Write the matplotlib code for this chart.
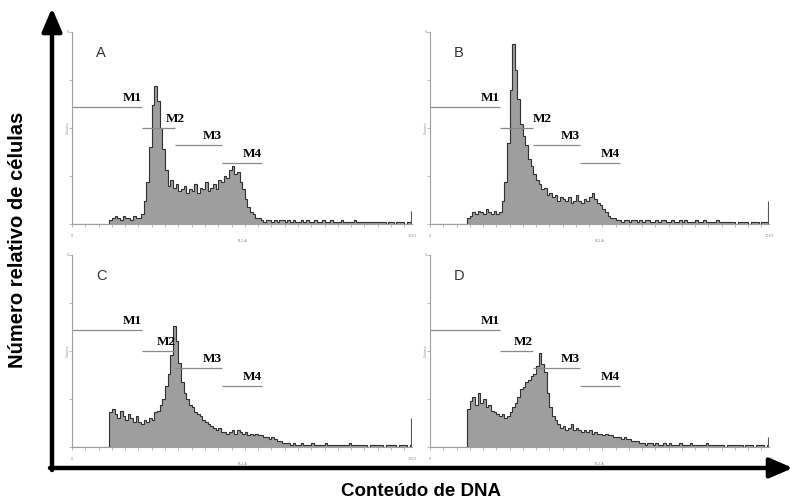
import numpy as np
import matplotlib
matplotlib.use("Agg")
import matplotlib.pyplot as plt

# DNA content histograms (FL2-A channel, bins of 8 channels), height in % of y axis
bin_width = 8
counts_a = [0, 0, 0, 0, 0, 0, 0, 0, 0, 0, 0, 0, 0, 0,
            2, 3, 4, 3, 2, 4, 3, 3, 2, 4, 3, 3,
            5, 12, 22, 40, 62, 72, 64, 50, 39, 28, 20, 23, 19, 21, 17, 18, 20, 16, 18, 17,
            21, 16, 19, 18, 22, 17, 19, 21, 18, 23, 22, 25, 24, 28, 30, 26, 27, 22, 18, 13,
            9, 6, 5, 3, 3,
            2, 1, 2, 2, 1, 2, 1, 2, 2, 1, 2, 1, 2, 1, 1, 2, 1, 2, 1, 1,
            2, 1, 1, 2, 1, 1, 2, 1, 1, 1, 2, 1, 1, 1, 1, 2, 1, 1, 1, 1,
            1, 1, 1, 1, 1, 1, 1, 0, 1, 1, 0, 1, 1, 1, 0, 1, 1]
counts_b = [0, 0, 0, 0, 0, 0, 0, 0, 0, 0, 0, 0, 0, 0,
            3, 4, 6, 5, 7, 6, 5, 8, 6, 5, 7, 5, 6,
            12, 22, 42, 70, 94, 80, 65, 52, 46, 41, 34, 30, 26, 23, 21, 18, 19, 15, 16, 14,
            15, 12, 14, 13, 12, 14, 11, 12, 15, 12, 11, 13, 12, 14, 16, 13, 11, 10, 8, 6,
            4, 3, 3,
            2, 2, 1, 2, 2, 1, 2, 2, 1, 2, 1, 2, 2, 1, 1, 2, 1, 2, 2, 1,
            1, 2, 1, 1, 2, 1, 2, 1, 1, 1, 2, 1, 1, 2, 1, 1, 1, 1, 2, 1,
            1, 1, 1, 1, 1, 0, 1, 1, 1, 1, 0, 1, 1, 1, 0, 1, 1, 1]
counts_c = [0, 0, 0, 0, 0, 0, 0, 0, 0, 0, 0, 0, 0, 0,
            18, 20, 17, 15, 19, 16, 14, 17, 15, 13, 16, 13, 12,
            14, 13, 15, 14, 18, 19, 22, 25, 32, 38, 48, 63, 55, 44, 34, 28, 25, 22, 21, 18,
            17, 16, 14, 13, 12, 11, 10, 9, 10, 8, 8, 7, 8, 9, 7, 9, 8, 7, 8, 6, 7, 6, 7, 6,
            6, 5, 5, 4, 5, 4, 3, 3, 2, 2, 2,
            1, 2, 1, 1, 2, 1, 1, 1, 2, 1, 1, 1, 1, 2, 1, 1, 1, 1, 1, 1,
            1, 1, 2, 1, 1, 1, 1, 1, 1, 0, 1, 1, 1, 1, 1, 0, 1, 1, 1, 1,
            0, 1, 1, 1, 0, 1]
counts_d = [0, 0, 0, 0, 0, 0, 0, 0, 0, 0, 0, 0, 0, 0,
            20, 24, 26, 22, 28, 23, 25, 21, 22, 19, 18, 17, 16, 17, 15, 16, 18, 21, 23, 26,
            30, 31, 34, 35, 37, 38, 42, 49, 43, 39, 28, 21, 16, 14, 12, 10, 11, 9, 10, 12,
            9, 10, 9, 8, 9, 8, 9, 7, 8, 7, 7, 6, 7, 6, 6, 5, 5, 5, 4, 5, 4, 4, 3, 3, 3, 2,
            2, 1, 2, 2, 1, 2, 1, 1, 2, 1, 2, 1, 1, 1, 2, 1, 1, 1, 2, 1,
            1, 1, 1, 1, 2, 1, 1, 1, 1, 1, 1, 0, 1, 1, 1, 1, 1, 1, 0, 1,
            1, 1, 0, 1, 1, 1, 0, 1]
last_channel = [7, 12, 15, 5]
panel_names = ["A", "B", "C", "D"]

# gate markers M1..M4 (channel ranges and height in %)
marker_names = ["M1", "M2", "M3", "M4"]
marker_start = [0, 211, 311, 452]
marker_end = [211, 311, 452, 572]
marker_level = [61, 50, 41, 32]

W, H = 795, 501
fig = plt.figure(figsize=(W / 100, H / 100), dpi=100)

def add_px_axes(x0, y0, x1, y1):
    return fig.add_axes([x0 / W, 1 - y1 / H, (x1 - x0) / W, (y1 - y0) / H])

boxes = [(72, 32, 412, 224), (430, 32, 769, 224),
         (72, 255, 412, 447), (430, 255, 769, 447)]
all_counts = [counts_a, counts_b, counts_c, counts_d]
# label alignment of M2 differs a bit between panels
m2_align = ["center", "left", "right", "right"]

for k in range(4):
    ax = add_px_axes(*boxes[k])
    vals = np.array(all_counts[k], dtype=float)
    edges = np.arange(len(vals) + 1) * bin_width
    ax.stairs(vals, edges, fill=True, color="#9e9e9e", lw=0)
    ax.stairs(vals, edges, color="#303030", lw=0.8)
    ax.vlines(1021, 0, last_channel[k], color="#555555", lw=0.8)

    for i in range(4):
        ax.hlines(marker_level[i], marker_start[i], marker_end[i], color="#8a8a8a", lw=0.9)
        ha = "right"
        if i == 1:
            ha = m2_align[k]
        ax.text(marker_end[i], marker_level[i] + 1.5, marker_names[i], ha=ha, va="bottom",
                family="Liberation Serif", fontweight="bold", fontsize=9.5)

    ax.text(72, 89, panel_names[k], fontsize=10.5, color="#333333", va="center",
            family="Liberation Sans", fontweight="light")

    ax.set_xlim(0, 1023)
    ax.set_ylim(0, 100)
    ax.spines["top"].set_visible(False)
    ax.spines["right"].set_visible(False)
    for s in ["left", "bottom"]:
        ax.spines[s].set_color("#a0a0a0")
        ax.spines[s].set_linewidth(0.8)
    ax.set_yticks([0, 25, 50, 75, 100])
    ax.set_xticks(np.arange(0, 1023, 40))
    ax.tick_params(length=2, width=0.5, color="#a0a0a0", labelleft=False, labelbottom=False)
    ax.patch.set_alpha(0)
    # tiny instrument labels
    ax.text(-8, 100, "5", fontsize=2.5, color="#888888", ha="right", va="center")
    ax.text(-14, 50, "Counts", fontsize=2.5, color="#888888", rotation=90, ha="center", va="center")
    ax.text(0, -5, "0", fontsize=2.5, color="#888888", ha="center", va="top")
    ax.text(1023, -5, "1023", fontsize=2.5, color="#888888", ha="center", va="top")
    ax.text(512, -8, "FL2-A", fontsize=2.5, color="#888888", ha="center", va="top")

# big axis arrows
arrow = dict(arrowstyle="-|>,head_width=0.3,head_length=0.7", lw=3.2, color="black",
             mutation_scale=20, shrinkA=0, shrinkB=0)
plt.annotate("", xy=(52 / W, 1 - 8 / H), xytext=(52 / W, 1 - 470 / H),
             xycoords="figure fraction", textcoords="figure fraction", arrowprops=arrow)
plt.annotate("", xy=(793 / W, 1 - 468 / H), xytext=(50 / W, 1 - 468 / H),
             xycoords="figure fraction", textcoords="figure fraction", arrowprops=arrow)

fig.text(18 / W, 1 - 240 / H, "Número relativo de células", rotation=90, ha="center",
         va="center", fontsize=14.5, fontweight="bold", family="Liberation Sans")
fig.text(421 / W, 1 - 492 / H, "Conteúdo de DNA", ha="center", va="center",
         fontsize=13.5, fontweight="bold", family="Liberation Sans")

fig.savefig("out.png", dpi=100)
